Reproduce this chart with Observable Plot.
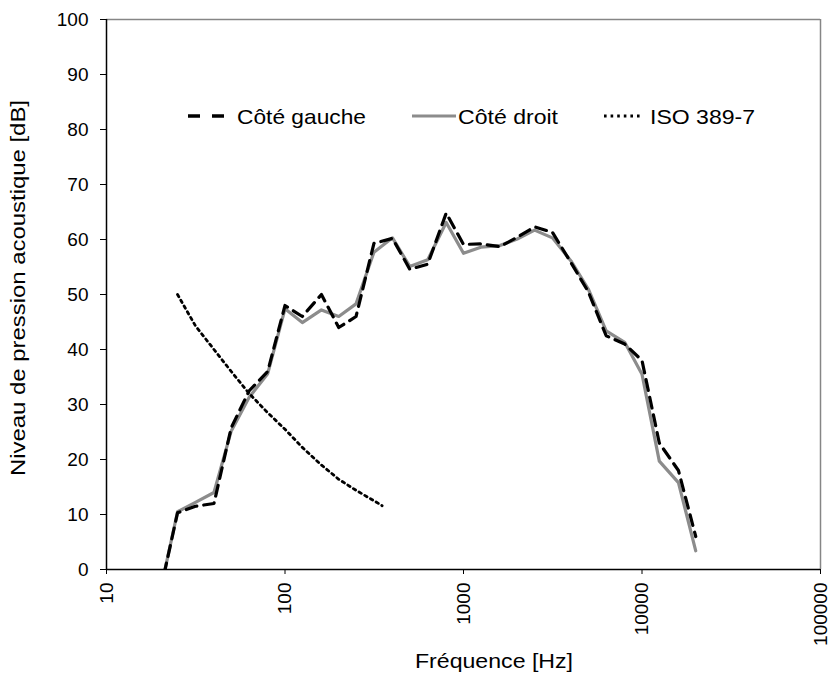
<!DOCTYPE html>
<html><head><meta charset="utf-8">
<script src="https://cdn.jsdelivr.net/npm/d3@7"></script>
<script src="https://cdn.jsdelivr.net/npm/@observablehq/plot@0.6"></script>
<style>
body{margin:0;background:#fff;}
#wrap{position:relative;width:830px;height:674px;font-family:"Liberation Sans",Arial,sans-serif;}
#legend{position:absolute;left:0;top:0;pointer-events:none;}
</style>
</head><body><div id="wrap"></div>
<script>
const freqs = [20,25,31.5,40,50,63,80,100,125,160,200,250,315,400,500,630,800,1000,1250,1600,2000,2500,3150,4000,5000,6300,8000,10000,12500,16000,20000];
const gauche = [-4,10.3,11.5,12,25.8,32.5,36,48,46,50,44,46,59.3,60.2,54.6,55.5,64.8,59.1,59.2,58.7,60.4,62.3,61.3,55.8,50.5,42.5,41,38,23,18,6];
const droit = [-4,10.5,12.2,14,25.2,31.3,35.6,47.4,44.9,47.2,46,48.3,57.7,60.3,55.1,56.3,63.1,57.5,58.6,58.9,60.1,61.7,60.3,56.1,51,43.4,41.3,35.5,19.7,15.8,3.4];
const isoFreqs = [25,31.5,40,50,63,80,100,125,160,200,250,315,350];
const isoValues = [50,44.3,40,36,32,28.5,25.5,22.2,19,16.4,14.4,12.5,11.6];
const xTicks = [10,100,1000,10000,100000];
const yTicks = [0,10,20,30,40,50,60,70,80,90,100];
const seriesNames = ["Côté gauche","Côté droit","ISO 389-7"];
const xTitle = "Fréquence [Hz]";
const yTitle = "Niveau de pression acoustique [dB]";

const data = freqs.map((f,i)=>({f, g: gauche[i], d: droit[i]}));
const iso = isoFreqs.map((f,i)=>({f, v: isoValues[i]}));

const chart = Plot.plot({
  width: 830, height: 674,
  marginLeft: 106, marginRight: 10, marginTop: 19, marginBottom: 105,
  style: {fontFamily: '"Liberation Sans", Arial, sans-serif', fontSize: "19px", color: "#000", background: "#fff"},
  x: {type: "log", domain: [10,100000]},
  y: {domain: [0,100]},
  marks: [
    Plot.ruleY([100], {stroke: "#868686", strokeWidth: 1.5}),
    Plot.ruleX([100000], {stroke: "#868686", strokeWidth: 1.5}),
    Plot.line(data, {x:"f", y:"d", stroke:"#8c8c8c", strokeWidth:3.2, clip:true}),
    Plot.line(data, {x:"f", y:"g", stroke:"#000", strokeWidth:3.2, strokeDasharray:"11,7", clip:true}),
    Plot.line(iso, {x:"f", y:"v", stroke:"#000", strokeWidth:2.8, strokeDasharray:"2.6,4"}),
    Plot.ruleX([10], {stroke:"#000", strokeWidth: 1.5}),
    Plot.ruleY([0], {stroke:"#000", strokeWidth:1.5}),
    Plot.axisY({ticks: yTicks, tickSize: 6, tickPadding: 12, label: null, fontSize: 19}),
    Plot.axisX({ticks: xTicks, tickFormat: d=>String(d), tickSize: 5, tickRotate: -90, tickPadding: 8, label: null, fontSize: 19})
  ]
});
const wrap = document.getElementById("wrap");
wrap.appendChild(chart);

// legend + titles overlay
const ns = "http://www.w3.org/2000/svg";
const lg = document.createElementNS(ns, "svg");
lg.setAttribute("id","legend");
lg.setAttribute("width", 830); lg.setAttribute("height", 674);
const font = '"Liberation Sans", Arial, sans-serif';
function addText(str, attrs){
  const t = document.createElementNS(ns,"text");
  t.setAttribute("font-family", font);
  for (const k in attrs) t.setAttribute(k, attrs[k]);
  t.textContent = str;
  lg.appendChild(t);
  return t;
}
const items = [
  {x1:188, x2:224, stroke:"#000", w:3.5, dash:"12,12", tx:237, len:129},
  {x1:412, x2:456, stroke:"#8c8c8c", w:3.2, dash:null, tx:458, len:100},
  {x1:604, x2:642, stroke:"#000", w:2.8, dash:"2.6,4", tx:650, len:105}
];
const ly = 116;
items.forEach((it,i)=>{
  const l = document.createElementNS(ns,"line");
  l.setAttribute("x1",it.x1); l.setAttribute("x2",it.x2);
  l.setAttribute("y1",ly); l.setAttribute("y2",ly);
  l.setAttribute("stroke",it.stroke); l.setAttribute("stroke-width",it.w);
  if (it.dash) l.setAttribute("stroke-dasharray",it.dash);
  lg.appendChild(l);
  addText(seriesNames[i], {x: it.tx, y: ly, dy: "0.36em", "font-size": "21px", textLength: it.len, lengthAdjust: "spacingAndGlyphs"});
});
addText(xTitle, {x: 494, y: 668, "text-anchor": "middle", "font-size": "21px", textLength: 158, lengthAdjust: "spacingAndGlyphs"});
addText(yTitle, {transform: "translate(25,288) rotate(-90)", "text-anchor": "middle", "font-size": "20px", textLength: 376, lengthAdjust: "spacingAndGlyphs"});
wrap.appendChild(lg);
</script>
</body></html>
